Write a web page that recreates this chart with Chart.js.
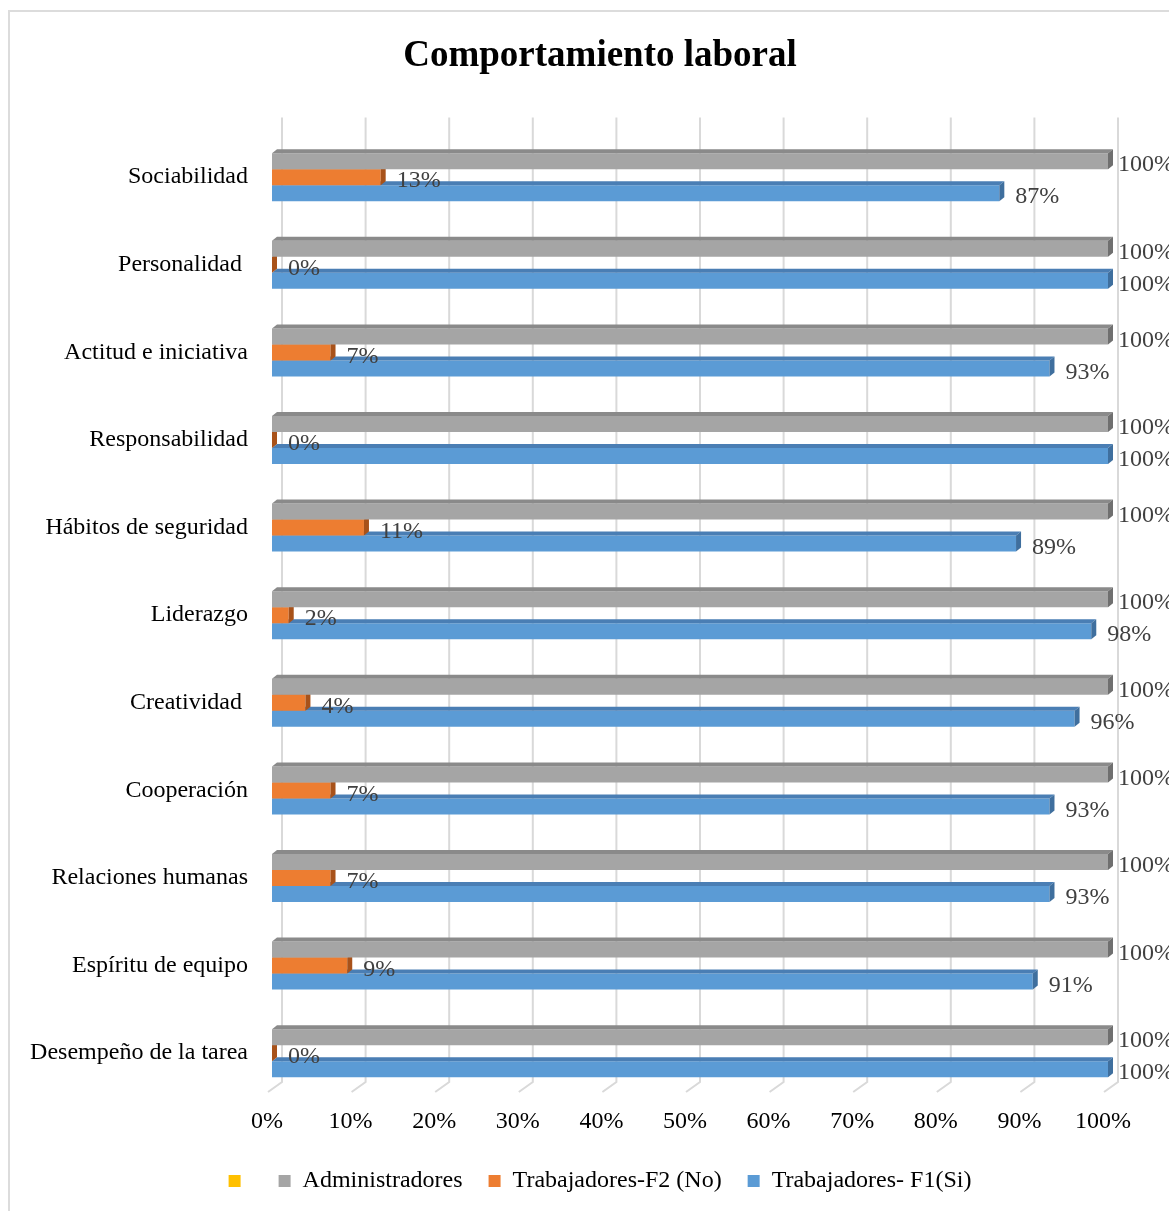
<!DOCTYPE html>
<html><head><meta charset="utf-8">
<script src="https://cdn.jsdelivr.net/npm/chart.js@4.4.1/dist/chart.umd.min.js"></script>
<style>
html,body{margin:0;padding:0;background:#fff;overflow:hidden;width:1169px;height:1211px;}
#frame{position:absolute;left:8px;top:10px;width:1300px;height:1300px;border-left:2px solid #dcdcdc;border-top:2px solid #dcdcdc;box-sizing:border-box;}
#c{position:absolute;left:0;top:0;}
</style></head><body>
<div id="frame"></div>
<canvas id="c" width="1169" height="1211"></canvas>
<script>
const categories = ["Sociabilidad","Personalidad ","Actitud e iniciativa","Responsabilidad","Hábitos de seguridad","Liderazgo","Creatividad ","Cooperación","Relaciones humanas","Espíritu de equipo","Desempeño de la tarea"];
const administradores = [100,100,100,100,100,100,100,100,100,100,100];
const trabajadoresF2 = [13,0,7,0,11,2,4,7,7,9,0];
const trabajadoresF1 = [87,100,93,100,89,98,96,93,93,91,100];
const seriesNames = ["Administradores","Trabajadores-F2 (No)","Trabajadores- F1(Si)"];
const extraLegendColor = "#ffc000";
const chartTitle = "Comportamiento laboral";

const frontColors = ["#a5a5a5","#ed7d31","#5b9bd5"];
const topColors = ["#8a8a8a","#c8641f","#4a7eb4"];
const sideColors = ["#6f6f6f","#a8521a","#3f6f9e"];
const DX = 5, DY = 4;
const serif = '"Liberation Serif", "Times New Roman", serif';

const threeD = {
  id: 'threeD',
  afterLayout(chart) {
    // widen the label clip region of the category axis so long labels are not cut
    chart.scales.y.left = 0;
  },
  beforeDatasetsDraw(chart) {
    const ctx = chart.ctx, xs = chart.scales.x, area = chart.chartArea;
    ctx.save();
    ctx.strokeStyle = '#d9d9d9';
    ctx.lineWidth = 2;
    xs.ticks.forEach(t => {
      const px = xs.getPixelForValue(t.value);
      ctx.beginPath();
      ctx.moveTo(px + 10, area.top - 16);
      ctx.lineTo(px + 10, area.bottom - 15);
      ctx.lineTo(px - 4, area.bottom - 5);
      ctx.stroke();
    });
    ctx.restore();
  },
  afterDatasetDraw(chart, args) {
    const ctx = chart.ctx, i = args.index;
    ctx.save();
    args.meta.data.forEach(el => {
      const p = el.getProps(['x','y','base','height'], true);
      const yt = p.y - p.height/2, yb = p.y + p.height/2;
      ctx.fillStyle = topColors[i];
      ctx.beginPath();
      ctx.moveTo(p.base, yt); ctx.lineTo(p.base + DX, yt - DY);
      ctx.lineTo(p.x + DX, yt - DY); ctx.lineTo(p.x, yt); ctx.closePath(); ctx.fill();
      ctx.fillStyle = sideColors[i];
      ctx.beginPath();
      ctx.moveTo(p.x, yt); ctx.lineTo(p.x + DX, yt - DY);
      ctx.lineTo(p.x + DX, yb - DY); ctx.lineTo(p.x, yb); ctx.closePath(); ctx.fill();
    });
    ctx.restore();
  },
  afterDatasetsDraw(chart) {
    const ctx = chart.ctx, area = chart.chartArea;
    ctx.save();
    ctx.font = '24px ' + serif;
    ctx.fillStyle = '#404040';
    ctx.textAlign = 'left';
    ctx.textBaseline = 'middle';
    chart.data.datasets.forEach((ds, i) => {
      const meta = chart.getDatasetMeta(i);
      meta.data.forEach((el, j) => {
        const v = ds.data[j];
        if (v === null || v === undefined) return;
        const p = el.getProps(['x','y'], true);
        const lx = Math.min(p.x + 16, area.right + 10);
        ctx.fillText(v + '%', lx, p.y + 4);
      });
    });
    ctx.restore();
  }
};

const defaultGen = Chart.defaults.plugins.legend.labels.generateLabels;

new Chart(document.getElementById('c'), {
  type: 'bar',
  data: {
    labels: categories,
    datasets: [
      { label: seriesNames[0], data: administradores, backgroundColor: frontColors[0] },
      { label: seriesNames[1], data: trabajadoresF2, backgroundColor: frontColors[1] },
      { label: seriesNames[2], data: trabajadoresF1, backgroundColor: frontColors[2] }
    ]
  },
  options: {
    indexAxis: 'y',
    responsive: false,
    animation: false,
    devicePixelRatio: 1,
    datasets: { bar: { categoryPercentage: 0.548, barPercentage: 1.0, borderWidth: 0 } },
    layout: { padding: { left: 92, right: 61, top: 0, bottom: 8 } },
    scales: {
      x: {
        min: 0, max: 100,
        grid: { display: false, drawTicks: false },
        border: { display: false },
        ticks: { stepSize: 10, padding: 10, labelOffset: -5, color: '#000', font: { family: serif, size: 24 }, callback: v => v + '%' },
        afterFit: s => { s.height = 46; }
      },
      y: {
        grid: { display: false, drawTicks: false },
        border: { display: false },
        ticks: { padding: 24, color: '#000', font: { family: serif, size: 24 } },
        afterFit: s => { s.width = 180; }
      }
    },
    plugins: {
      title: { display: true, text: chartTitle, color: '#000', font: { family: serif, size: 37, weight: 'bold' }, padding: { top: 34, bottom: 55 } },
      legend: {
        position: 'bottom',
        labels: {
          color: '#000', font: { family: serif, size: 24 }, boxWidth: 12, boxHeight: 12, padding: 26,
          generateLabels: chart => {
            const items = defaultGen(chart);
            items.forEach(it => { it.lineWidth = 0; it.strokeStyle = it.fillStyle; });
            items.unshift({ text: '', fillStyle: extraLegendColor, strokeStyle: extraLegendColor, lineWidth: 0, hidden: false, datasetIndex: -1 });
            return items;
          }
        },
        onClick: () => {}
      },
      tooltip: { enabled: false }
    }
  },
  plugins: [threeD]
});
</script></body></html>
